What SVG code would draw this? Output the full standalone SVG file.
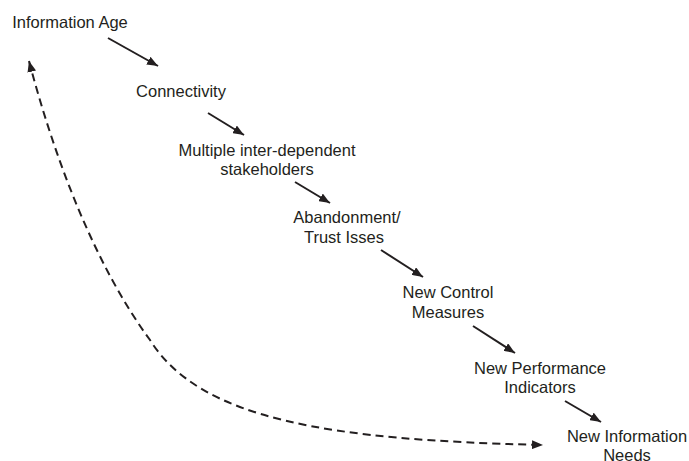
<svg xmlns="http://www.w3.org/2000/svg" width="689" height="461" viewBox="0 0 689 461">
<style>
text{font-family:"Liberation Sans",Arial,sans-serif;font-size:16.5px;fill:#231f20;text-anchor:middle}
.arr{stroke:#231f20;stroke-width:2;fill:none;marker-end:url(#ah)}
.dash{stroke:#231f20;stroke-width:2;fill:none;stroke-dasharray:8 5;marker-start:url(#ah);marker-end:url(#ah)}
</style>
<defs>
<marker id="ah" viewBox="0 0 10 8" refX="10" refY="4" markerWidth="5.5" markerHeight="4.4" orient="auto-start-reverse" markerUnits="strokeWidth">
<path d="M0,0 L10,4 L0,8 Z" fill="#231f20"/>
</marker>
</defs>
<rect width="689" height="461" fill="#fff"/>
<g id="connectors">
<line class="arr" x1="108" y1="38" x2="158" y2="66"/>
<line class="arr" x1="208" y1="113" x2="244" y2="135"/>
<line class="arr" x1="295" y1="182" x2="330" y2="203"/>
<line class="arr" x1="381" y1="250" x2="423" y2="277"/>
<line class="arr" x1="473" y1="326" x2="515" y2="353"/>
<line class="arr" x1="565" y1="401" x2="601" y2="422"/>
<path class="dash" d="M29,61 C55,160 95,265 150,340 C200,420 330,440 543,445"/>
</g>
<g id="n1"><text x="70" y="28">Information Age</text></g>
<g id="n2"><text x="181" y="97">Connectivity</text></g>
<g id="n3"><text x="267" y="156">Multiple inter-dependent</text><text x="267" y="175">stakeholders</text></g>
<g id="n4"><text x="347" y="223">Abandonment/</text><text x="344" y="243">Trust Isses</text></g>
<g id="n5"><text x="448" y="298">New Control</text><text x="448" y="318">Measures</text></g>
<g id="n6"><text x="540" y="374">New Performance</text><text x="540" y="393">Indicators</text></g>
<g id="n7"><text x="627" y="442">New Information</text><text x="627" y="461">Needs</text></g>
</svg>
